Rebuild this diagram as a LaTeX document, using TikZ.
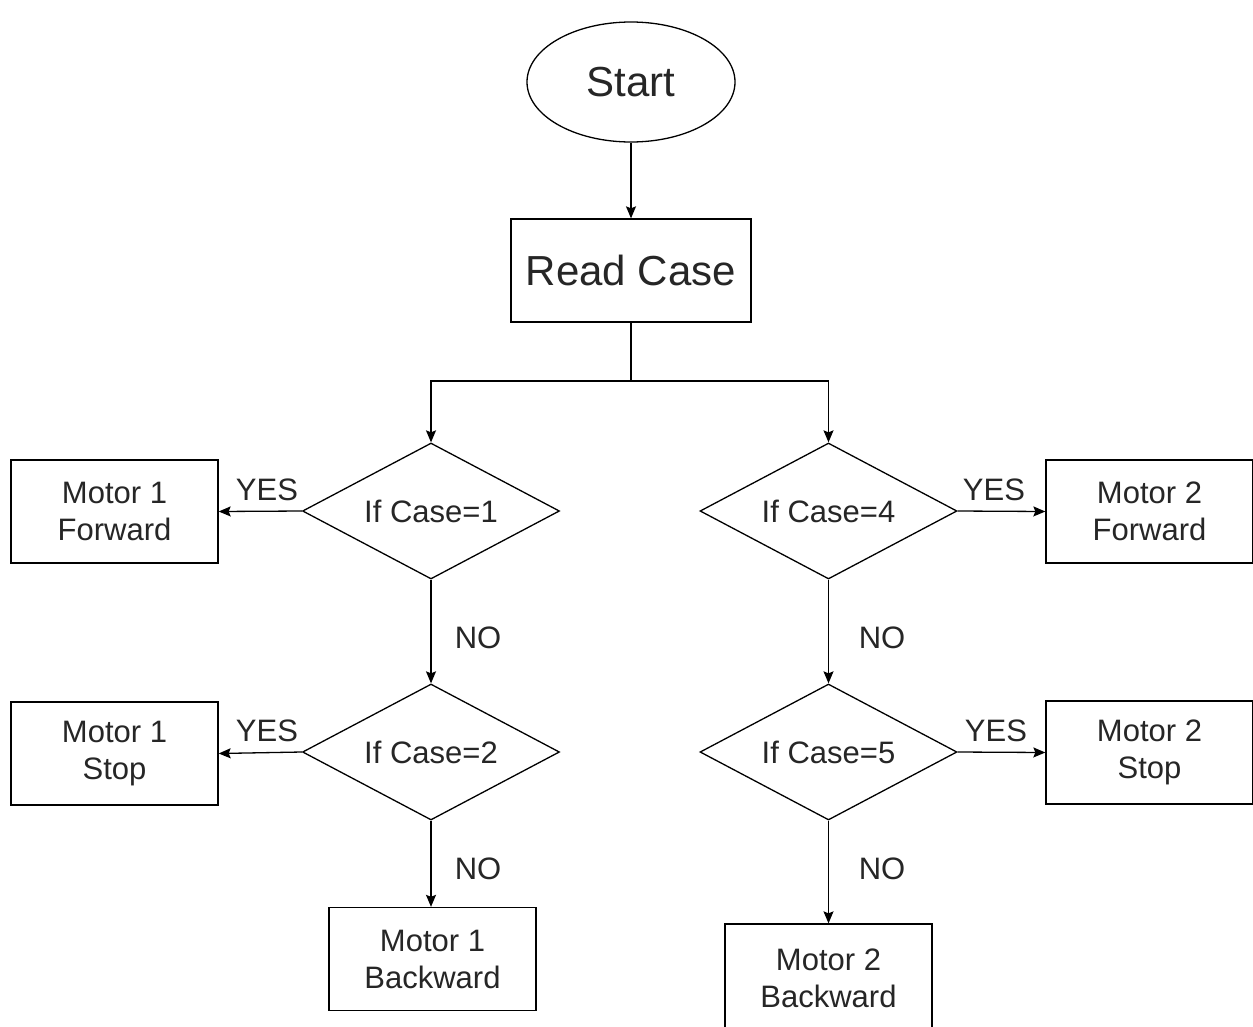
\documentclass[tikz,border=0pt]{standalone}
\usepackage{fontspec}
\setmainfont{Liberation Sans}
\usetikzlibrary{shapes.geometric,arrows.meta}
\begin{document}
\begin{tikzpicture}[x=1pt,y=-1pt,
  line width=1.3pt,
  every node/.style={font=\fontsize{31}{37}\selectfont, text=black!85},
  bigtxt/.style={font=\fontsize{42}{48}\selectfont},
  procbox/.style={draw, rectangle, minimum width=207pt, minimum height=103pt, align=center, inner sep=0pt},
  decbox/.style={draw, diamond, aspect=1.89, minimum width=257pt, minimum height=136pt, inner sep=0pt},
  termbox/.style={draw, ellipse, minimum width=208pt, minimum height=120pt, inner sep=0pt},
  lbl/.style={inner sep=0pt},
  arr/.style={-{Stealth[length=12pt,width=10pt,inset=2pt]}}
]
\useasboundingbox (0,0) rectangle (1253,1026);
\clip (0,0) rectangle (1253,1026);
\fill[white] (0,0) rectangle (1253,1026);

\node[termbox, bigtxt] (start) at (631,82) {Start};
\node[procbox, bigtxt, minimum width=240pt] (read) at (631,270.5) {Read Case};
\coordinate (j) at (631,381);

\node[decbox] (d1) at (431,511) {If Case=1};
\node[decbox] (d2) at (431,752) {If Case=2};
\node[decbox] (d4) at (828.5,511) {If Case=4};
\node[decbox] (d5) at (828.5,752) {If Case=5};

\node[procbox] (m1f) at (114.5,511.5) {Motor 1\\Forward};
\node[procbox] (m1s) at (114.5,753.5) {Motor 1\\Stop};
\node[procbox] (m1b) at (432.5,959) {Motor 1\\Backward};
\node[procbox] (m2f) at (1149.5,511.5) {Motor 2\\Forward};
\node[procbox] (m2s) at (1149.5,752.5) {Motor 2\\Stop};
\node[procbox, minimum height=108pt] (m2b) at (828.5,978) {Motor 2\\Backward};

\draw[arr] (start) -- (read);
\draw (read.south) -- (j);
\draw[arr] (j) -| (d1.north);
\draw[arr] (j) -| (d4.north);

\draw[arr] (d1.west) -- (m1f.east);
\draw[arr] (d2.west) -- (m1s.east);
\draw[arr] (d1.south) -- (d2.north);
\draw[arr] (d2.south) -- (m1b.north -| d2.south);
\draw[arr] (d4.east) -- (m2f.west);
\draw[arr] (d5.east) -- (m2s.west);
\draw[arr] (d4.south) -- (d5.north);
\draw[arr] (d5.south) -- (m2b.north);

\node[lbl] (y1) at (267,490) {YES};
\node[lbl] (y2) at (267,731) {YES};
\node[lbl] (n1) at (478,638) {NO};
\node[lbl] (n2) at (478,869) {NO};
\node[lbl] (y4) at (994,490) {YES};
\node[lbl] (y5) at (996,731) {YES};
\node[lbl] (n4) at (882,638) {NO};
\node[lbl] (n5) at (882,869) {NO};
\end{tikzpicture}
\end{document}
